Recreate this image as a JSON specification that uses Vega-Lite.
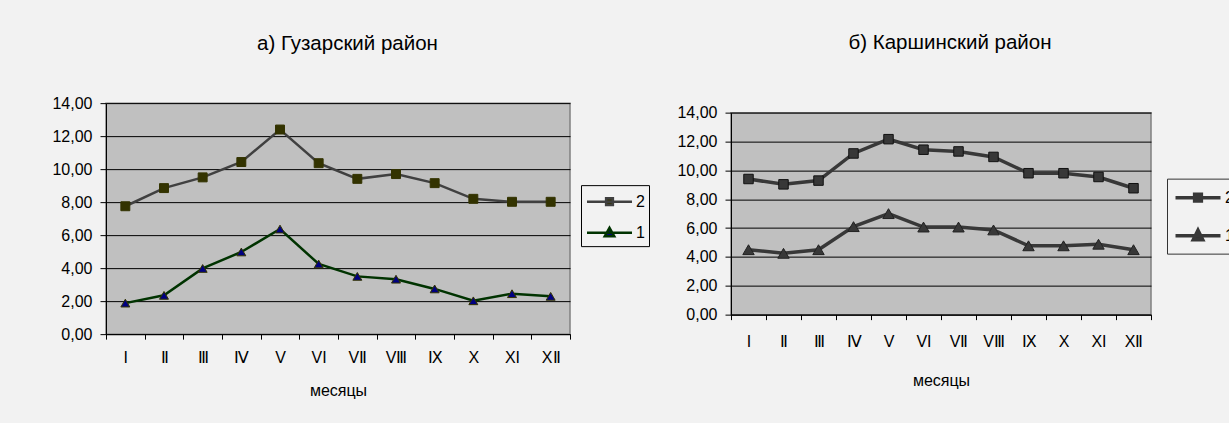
{
  "$schema": "https://vega.github.io/schema/vega-lite/v6.json",
  "background": "#f2f2f2",
  "padding": {"left": 51, "top": 32, "right": 0, "bottom": 25},
  "spacing": 25,
  "center": {"row": true, "column": false},
  "resolve": {"scale": {"color": "independent"}, "legend": {"color": "independent"}},
  "datasets": {
    "guzar": [
      {"month": "I", "series": "2", "value": 7.75},
      {"month": "Ⅱ", "series": "2", "value": 8.85},
      {"month": "Ⅲ", "series": "2", "value": 9.5},
      {"month": "Ⅳ", "series": "2", "value": 10.43},
      {"month": "V", "series": "2", "value": 12.4},
      {"month": "VI", "series": "2", "value": 10.36},
      {"month": "VⅡ", "series": "2", "value": 9.41},
      {"month": "VⅢ", "series": "2", "value": 9.7},
      {"month": "Ⅸ", "series": "2", "value": 9.15},
      {"month": "X", "series": "2", "value": 8.2},
      {"month": "XI", "series": "2", "value": 8.02},
      {"month": "XⅡ", "series": "2", "value": 8.02},
      {"month": "I", "series": "1", "value": 1.88},
      {"month": "Ⅱ", "series": "1", "value": 2.35},
      {"month": "Ⅲ", "series": "1", "value": 3.98},
      {"month": "Ⅳ", "series": "1", "value": 4.98},
      {"month": "V", "series": "1", "value": 6.37},
      {"month": "VI", "series": "1", "value": 4.25},
      {"month": "VⅡ", "series": "1", "value": 3.5},
      {"month": "VⅢ", "series": "1", "value": 3.33},
      {"month": "Ⅸ", "series": "1", "value": 2.74},
      {"month": "X", "series": "1", "value": 2.02},
      {"month": "XI", "series": "1", "value": 2.45},
      {"month": "XⅡ", "series": "1", "value": 2.29}
    ],
    "karshi": [
      {"month": "I", "series": "2", "value": 9.4},
      {"month": "Ⅱ", "series": "2", "value": 9.03},
      {"month": "Ⅲ", "series": "2", "value": 9.29},
      {"month": "Ⅳ", "series": "2", "value": 11.17},
      {"month": "V", "series": "2", "value": 12.16},
      {"month": "VI", "series": "2", "value": 11.43},
      {"month": "VⅡ", "series": "2", "value": 11.31},
      {"month": "VⅢ", "series": "2", "value": 10.93},
      {"month": "Ⅸ", "series": "2", "value": 9.8},
      {"month": "X", "series": "2", "value": 9.8},
      {"month": "XI", "series": "2", "value": 9.54},
      {"month": "XⅡ", "series": "2", "value": 8.76},
      {"month": "I", "series": "1", "value": 4.5},
      {"month": "Ⅱ", "series": "1", "value": 4.25},
      {"month": "Ⅲ", "series": "1", "value": 4.5},
      {"month": "Ⅳ", "series": "1", "value": 6.1},
      {"month": "V", "series": "1", "value": 7.0},
      {"month": "VI", "series": "1", "value": 6.07},
      {"month": "VⅡ", "series": "1", "value": 6.07},
      {"month": "VⅢ", "series": "1", "value": 5.87},
      {"month": "Ⅸ", "series": "1", "value": 4.77},
      {"month": "X", "series": "1", "value": 4.77},
      {"month": "XI", "series": "1", "value": 4.88},
      {"month": "XⅡ", "series": "1", "value": 4.5}
    ]
  },
  "hconcat": [
    {
      "data": {"name": "guzar"},
      "width": 464,
      "height": 231,
      "title": {"text": "а) Гузарский район", "fontSize": 20.5, "fontWeight": "normal", "color": "#000", "offset": 41, "dx": 9.5, "frame": "group"},
      "encoding": {
        "x": {
          "field": "month", "type": "ordinal",
          "sort": ["I", "Ⅱ", "Ⅲ", "Ⅳ", "V", "VI", "VⅡ", "VⅢ", "Ⅸ", "X", "XI", "XⅡ"],
          "scale": {"type": "band", "paddingInner": 0, "paddingOuter": 0},
          "title": "месяцы",
          "axis": {"tickBand": "extent", "labelAngle": 0, "labelPadding": 10, "titlePadding": 17}
        },
        "y": {
          "field": "value", "type": "quantitative",
          "scale": {"domain": [0, 14], "nice": false},
          "title": null,
          "axis": {"values": [0, 2, 4, 6, 8, 10, 12, 14], "labelExpr": "replace(format(datum.value, '.2f'), '.', ',')"}
        }
      },
      "layer": [
        {
          "mark": {"type": "line", "strokeWidth": 2.5},
          "encoding": {
            "color": {
              "field": "series", "type": "nominal",
              "scale": {"domain": ["2", "1"], "range": ["#404040", "#003300"]},
              "legend": {
                "orient": "none", "legendX": 475, "legendY": 82, "title": null,
                "strokeColor": "#000", "fillColor": "#f2f2f2", "padding": 4,
                "symbolSize": 506, "symbolOffset": 12, "labelOffset": 14,
                "labelFontSize": 16, "labelColor": "#000", "rowPadding": 10, "symbolStrokeWidth": 2.5,
                "encode": {"symbols": {"update": {
                  "shape": {"signal": "datum.value === '2' ? 'M-2,0H2M-0.3,-0.3H0.3V0.3H-0.3Z' : 'M-2,0H2M0,-0.42L0.42,0.32L-0.42,0.32Z'"},
                  "fill": {"signal": "datum.value === '2' ? '#333300' : '#000080'"},
                  "stroke": {"signal": "datum.value === '2' ? '#404040' : '#003300'"},
                  "strokeWidth": {"value": 2.5},
                  "fillOpacity": {"value": 1},
                  "strokeOpacity": {"value": 1}
                }}}
              }
            }
          }
        },
        {
          "transform": [{"filter": "datum.series === '2'"}],
          "mark": {"type": "point", "shape": "square", "filled": true, "size": 80, "fill": "#333300", "stroke": "#333300", "strokeWidth": 1, "opacity": 1}
        },
        {
          "transform": [{"filter": "datum.series === '1'"}],
          "mark": {"type": "point", "shape": "triangle-up", "filled": true, "size": 80, "fill": "#000080", "stroke": "#333300", "strokeWidth": 1, "opacity": 1}
        }
      ]
    },
    {
      "data": {"name": "karshi"},
      "width": 420,
      "height": 202,
      "title": {"text": "б) Каршинский район", "fontSize": 20.5, "fontWeight": "normal", "color": "#000", "offset": 51, "dx": 9, "frame": "group"},
      "encoding": {
        "x": {
          "field": "month", "type": "ordinal",
          "sort": ["I", "Ⅱ", "Ⅲ", "Ⅳ", "V", "VI", "VⅡ", "VⅢ", "Ⅸ", "X", "XI", "XⅡ"],
          "scale": {"type": "band", "paddingInner": 0, "paddingOuter": 0},
          "title": "месяцы",
          "axis": {"tickBand": "extent", "labelAngle": 0, "labelPadding": 14, "titlePadding": 23}
        },
        "y": {
          "field": "value", "type": "quantitative",
          "scale": {"domain": [0, 14], "nice": false},
          "title": null,
          "axis": {"values": [0, 2, 4, 6, 8, 10, 12, 14], "labelExpr": "replace(format(datum.value, '.2f'), '.', ',')"}
        }
      },
      "layer": [
        {
          "mark": {"type": "line", "strokeWidth": 3.5},
          "encoding": {
            "color": {
              "field": "series", "type": "nominal",
              "scale": {"domain": ["2", "1"], "range": ["#383838", "#383838"]},
              "legend": {
                "orient": "none", "legendX": 436, "legendY": 66, "title": null,
                "strokeColor": "#333", "fillColor": "#f2f2f2", "padding": 6,
                "symbolSize": 506, "symbolOffset": 12, "labelOffset": 14,
                "labelFontSize": 16, "labelColor": "#000", "rowPadding": 14, "symbolStrokeWidth": 3.5,
                "encode": {"symbols": {"update": {
                  "shape": {"signal": "datum.value === '2' ? 'M-2,0H2M-0.3,-0.3H0.3V0.3H-0.3Z' : 'M-2,0H2M0,-0.48L0.42,0.36L-0.42,0.36Z'"},
                  "fill": {"value": "#333"},
                  "stroke": {"value": "#383838"},
                  "strokeWidth": {"value": 3.5},
                  "fillOpacity": {"value": 1},
                  "strokeOpacity": {"value": 1}
                }}}
              }
            }
          }
        },
        {
          "transform": [{"filter": "datum.series === '2'"}],
          "mark": {"type": "point", "shape": "square", "filled": true, "size": 90, "fill": "#383838", "stroke": "#111", "strokeWidth": 1, "opacity": 1}
        },
        {
          "transform": [{"filter": "datum.series === '1'"}],
          "mark": {"type": "point", "shape": "triangle-up", "filled": true, "size": 130, "fill": "#383838", "stroke": "#222", "strokeWidth": 1, "opacity": 1}
        }
      ]
    }
  ],
  "config": {
    "font": "Liberation Sans",
    "view": {"fill": "#c0c0c0", "stroke": "#808080", "strokeWidth": 1.5},
    "axis": {
      "domainColor": "#000", "domainWidth": 1, "tickColor": "#000", "tickWidth": 1,
      "labelFontSize": 16, "labelColor": "#000", "titleFontSize": 16, "titleFontWeight": "normal", "titleColor": "#000"
    },
    "axisY": {"gridColor": "#000", "gridOpacity": 1, "gridWidth": 1, "tickSize": 6, "labelPadding": 8},
    "axisX": {"grid": false, "tickSize": 5}
  }
}
